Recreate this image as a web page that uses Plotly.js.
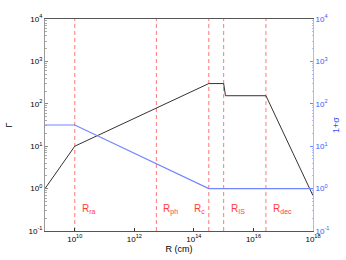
<!DOCTYPE html>
<html>
<head>
<meta charset="utf-8">
<script src="https://cdn.plot.ly/plotly-3.0.1.min.js"></script>
<style>html,body{margin:0;padding:0;background:#fff;}#chart{width:346px;height:260px;}</style>
</head>
<body>
<div id="chart"></div>
<script>
// Lorentz factor Gamma vs radius
const R_gamma = [1e9, 1e10, 3.16e14, 1.0e15, 1.15e15, 2.63e16, 1e18];
const gamma   = [1, 10, 300, 300, 155, 155, 0.68];
// magnetization 1+sigma vs radius
const R_sigma = [1e9, 1e10, 3.16e14, 1e18];
const sigma1  = [31.6, 31.6, 1, 1];
// characteristic radii
const radiusNames  = ["R<sub>ra</sub>", "R<sub>ph</sub>", "R<sub>c</sub>", "R<sub>IS</sub>", "R<sub>dec</sub>"];
const radiusValues = [1e10, 5.5e12, 3.16e14, 1.0e15, 2.63e16];
// axis ticks
const xTickVals = [1e10, 1e12, 1e14, 1e16, 1e18];
const xTickText = ["10<sup>10</sup>", "10<sup>12</sup>", "10<sup>14</sup>", "10<sup>16</sup>", "10<sup>18</sup>"];
const yTickVals = [0.1, 1, 10, 100, 1000, 10000];
const yTickText = ["10<sup>-1</sup>", "10<sup>0</sup>", "10<sup>1</sup>", "10<sup>2</sup>", "10<sup>3</sup>", "10<sup>4</sup>"];

const red = "#ff7a7a";
const redText = "#ff3b3b";
const blueLine = "#6f86ff";
const blueText = "#3a55ff";
const font = "Liberation Sans, Arial, sans-serif";

const traces = [];
radiusValues.forEach(r => {
  traces.push({x: [r, r], y: [0.1, 1e4], mode: "lines", line: {color: red, width: 1, dash: "4px,3px"}, hoverinfo: "skip", showlegend: false});
});
traces.push({x: R_sigma, y: sigma1, mode: "lines", yaxis: "y2", line: {color: blueLine, width: 1.2}, showlegend: false});
traces.push({x: R_gamma, y: gamma, mode: "lines", line: {color: "#333", width: 1}, showlegend: false});

const annotations = radiusNames.map((t, i) => {
  const leftSide = (i === 2);
  return {
    x: Math.log10(radiusValues[i]), y: Math.log10(0.33), xref: "x", yref: "y",
    text: t, showarrow: false,
    xanchor: leftSide ? "right" : "left", xshift: leftSide ? -2 : 5,
    font: {family: font, size: 10, color: redText}
  };
});

const layout = {
  width: 346, height: 260,
  margin: {l: 45, r: 33, t: 19, b: 29},
  paper_bgcolor: "#fff", plot_bgcolor: "#fff",
  font: {family: font, size: 8, color: "#000"},
  showlegend: false,
  xaxis: {
    type: "log", range: [9, 18], tickvals: xTickVals, ticktext: xTickText,
    ticks: "inside", ticklen: 3, tickcolor: "#333",
    showline: true, linecolor: "#555", linewidth: 1, mirror: true,
    showgrid: false, zeroline: false,
    title: {text: "R (cm)", font: {family: font, size: 9}, standoff: 3},
    tickfont: {family: font, size: 8}
  },
  yaxis: {
    type: "log", range: [-1, 4], tickvals: yTickVals, ticktext: yTickText,
    ticks: "inside", ticklen: 3, tickcolor: "#888",
    minor: {ticks: "inside", ticklen: 1.5, tickcolor: "#aaa", dtick: "D1"},
    showline: true, linecolor: "#999", linewidth: 1,
    showgrid: false, zeroline: false,
    title: {text: "Γ", font: {family: font, size: 9}, standoff: 14},
    tickfont: {family: font, size: 8}
  },
  yaxis2: {
    type: "log", range: [-1, 4], overlaying: "y", side: "right",
    tickvals: yTickVals, ticktext: yTickText,
    ticks: "inside", ticklen: 3, tickcolor: blueLine,
    minor: {ticks: "inside", ticklen: 1.5, tickcolor: "#b0bcff", dtick: "D1"},
    showline: true, linecolor: "#aab8ff", linewidth: 1,
    showgrid: false, zeroline: false,
    title: {text: "1+σ", font: {family: font, size: 9, color: blueText}, standoff: 4},
    tickfont: {family: font, size: 8, color: blueText}
  },
  annotations: annotations
};

Plotly.newPlot("chart", traces, layout, {displayModeBar: false, staticPlot: true});
</script>
</body>
</html>
